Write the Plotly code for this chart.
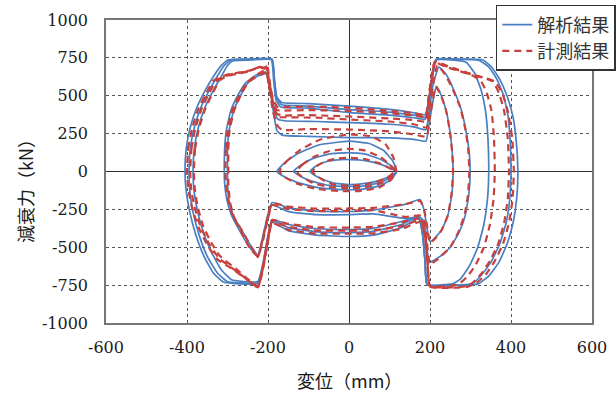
import plotly.graph_objects as go

# ---- axis ticks ----
x_ticks = [-600, -400, -200, 0, 200, 400, 600]
y_ticks = [-1000, -750, -500, -250, 0, 250, 500, 750, 1000]

series_names = ["解析結果", "計測結果"]

# ---- analysis (解析結果) loops: (displacement mm, force kN) ----
ana_c1 = [(-96,0),(-85,30),(-65,58),(-35,75),(0,79),(40,72),(80,45),(105,18),(118,0),
          (105,-25),(80,-55),(40,-78),(0,-86),(-40,-75),(-70,-45),(-88,-20),(-96,0)]
ana_c2 = [(-137,0),(-120,40),(-90,85),(-50,115),(0,125),(40,115),(80,78),(105,35),(118,0),
          (105,-35),(80,-70),(40,-95),(0,-99),(-50,-92),(-95,-62),(-122,-28),(-137,0)]
ana_c3 = [(-178,0),(-160,55),(-125,120),(-75,175),(0,200),(50,185),(85,140),(108,70),(118,0),
          (105,-50),(75,-95),(30,-118),(-20,-119),(-80,-105),(-130,-70),(-162,-32),(-178,0)]
ana_l1 = [(-300,0),(-300,150),(-297,260),(-285,400),(-268,500),(-249,587),(-225,630),(-205,645),
          (-195,560),(-186,380),(-178,270),(-165,240),(-100,232),(0,224),(100,222),(160,212),(190,200),
          (197,300),(205,430),(212,530),(217,560),(228,500),(240,400),(250,250),(255,120),(257,0),
          (254,-150),(245,-280),(230,-380),(212,-440),(200,-462),(193,-380),(185,-250),(175,-185),
          (140,-215),(60,-255),(0,-264),(-80,-262),(-150,-240),(-190,-205),(-200,-280),(-212,-420),
          (-225,-550),(-245,-480),(-262,-400),(-285,-300),(-296,-200),(-300,-80),(-300,0)]
ana_l2 = [(-308,0),(-307,150),(-303,270),(-292,400),(-275,500),(-255,585),(-230,635),(-205,655),
          (-194,560),(-185,420),(-176,345),(-160,335),(-80,330),(0,323),(100,312),(160,295),(190,275),
          (198,400),(208,580),(222,690),(240,640),(260,530),(278,400),(290,250),(297,120),(299,0),
          (296,-150),(287,-290),(272,-400),(250,-500),(225,-560),(198,-600),(192,-480),(185,-330),
          (175,-300),(140,-310),(60,-280),(0,-284),(-80,-285),(-150,-265),(-190,-220),(-200,-300),
          (-212,-440),(-225,-560),(-248,-490),(-268,-400),(-290,-290),(-302,-180),(-307,-80),(-308,0)]
ana_l3 = [(-385,0),(-382,150),(-372,290),(-356,420),(-336,530),(-315,630),(-300,700),(-288,730),
          (-250,735),(-192,738),(-186,600),(-180,470),(-168,425),(-100,418),(0,389),(100,372),
          (160,355),(188,345),(195,420),(205,600),(215,735),(260,735),(290,720),(310,650),(326,540),
          (337,400),(343,220),(345,0),
          (342,-180),(333,-350),(318,-500),(298,-620),(275,-710),(255,-742),(193,-746),(188,-600),
          (182,-420),(172,-300),(130,-330),(60,-375),(0,-383),(-80,-378),(-150,-350),(-190,-317),
          (-200,-420),(-212,-600),(-225,-726),(-260,-726),(-290,-715),(-315,-650),(-340,-530),
          (-360,-400),(-375,-250),(-383,-120),(-385,0)]
ana_l4 = [(-395,0),(-392,150),(-382,290),(-366,420),(-346,530),(-325,630),(-308,700),(-292,735),
          (-250,740),(-190,740),(-184,600),(-178,480),(-166,440),(-100,432),(0,409),(100,392),
          (160,372),(188,360),(195,430),(205,610),(215,740),(270,740),(320,735),(345,690),(365,610),
          (382,500),(393,360),(398,200),(400,0),
          (397,-180),(388,-340),(372,-480),(350,-600),(325,-690),(305,-740),(290,-746),(193,-746),
          (188,-600),(182,-420),(172,-300),(130,-350),(60,-395),(0,-403),(-80,-398),(-150,-370),
          (-190,-325),(-200,-440),(-212,-620),(-225,-735),(-270,-735),(-300,-728),(-325,-670),
          (-350,-560),(-370,-420),(-385,-270),(-393,-130),(-395,0)]
ana_l5 = [(-405,0),(-402,150),(-392,290),(-376,420),(-356,530),(-334,630),(-315,700),(-298,738),
          (-250,742),(-190,742),(-184,600),(-178,490),(-166,455),(-100,448),(0,431),(100,410),
          (160,388),(188,375),(195,440),(205,620),(215,742),(270,742),(330,738),(352,690),(372,610),
          (390,500),(405,360),(413,200),(417,0),
          (414,-180),(405,-340),(390,-480),(370,-600),(345,-690),(320,-740),(300,-748),(193,-748),
          (188,-600),(182,-420),(172,-310),(130,-370),(60,-420),(0,-429),(-80,-420),(-150,-390),
          (-190,-335),(-200,-450),(-212,-630),(-225,-740),(-280,-740),(-310,-730),(-335,-670),
          (-358,-560),(-378,-420),(-393,-270),(-402,-130),(-405,0)]

# ---- measured (計測結果) loops ----
mea_c1 = [(-90,0),(-80,35),(-60,65),(-30,85),(0,90),(40,82),(75,55),(100,22),(112,0),
          (100,-30),(75,-62),(40,-86),(0,-95),(-40,-85),(-65,-55),(-82,-25),(-90,0)]
mea_c2 = [(-130,0),(-115,45),(-88,95),(-48,135),(0,150),(40,138),(78,95),(102,42),(114,0),
          (102,-40),(78,-78),(40,-104),(0,-110),(-50,-102),(-92,-72),(-118,-32),(-130,0)]
mea_c3 = [(-172,0),(-155,65),(-122,140),(-72,210),(0,245),(55,232),(90,180),(110,90),(116,0),
          (104,-55),(75,-105),(30,-128),(-20,-130),(-80,-115),(-128,-80),(-158,-38),(-172,0)]
mea_l1 = [(-298,0),(-298,150),(-295,270),(-284,400),(-268,500),(-250,585),(-226,632),(-205,655),
          (-197,560),(-188,400),(-176,300),(-165,275),(-100,280),(0,277),(100,265),(160,245),(192,230),
          (198,330),(206,460),(214,560),(226,510),(240,400),(250,250),(255,120),(257,0),
          (253,-150),(244,-290),(228,-390),(210,-450),(200,-470),(194,-380),(186,-260),(176,-195),
          (140,-215),(60,-240),(0,-244),(-80,-245),(-150,-232),(-190,-210),(-200,-290),(-212,-430),
          (-225,-565),(-242,-495),(-262,-400),(-284,-300),(-294,-200),(-298,-80),(-298,0)]
mea_l2 = [(-305,0),(-304,150),(-300,270),(-289,400),(-272,500),(-252,585),(-228,638),(-205,670),
          (-196,560),(-187,430),(-176,360),(-160,358),(-80,355),(0,343),(100,330),(160,312),(192,290),
          (198,400),(207,560),(218,700),(235,650),(255,550),(275,420),(288,270),(295,130),(297,0),
          (294,-150),(285,-290),(270,-400),(250,-500),(225,-565),(200,-612),(193,-480),(186,-330),
          (176,-290),(140,-300),(60,-255),(0,-260),(-80,-262),(-150,-248),(-190,-222),(-200,-310),
          (-212,-450),(-225,-560),(-245,-505),(-266,-400),(-287,-290),(-299,-180),(-304,-80),(-305,0)]
mea_l3 = [(-383,0),(-380,150),(-370,290),(-354,420),(-336,520),(-320,600),(-305,625),(-285,640),
          (-265,650),(-245,665),(-225,685),(-212,675),(-205,690),(-197,560),(-188,440),(-178,380),
          (-165,370),(-100,372),(0,363),(100,350),(160,340),(190,330),(196,450),(204,600),(212,720),
          (240,690),(270,665),(300,640),(325,600),(340,520),(352,400),(358,220),(360,0),
          (357,-180),(348,-350),(333,-500),(312,-620),(290,-700),(270,-745),(240,-755),(200,-755),
          (194,-600),(188,-420),(178,-310),(130,-335),(60,-365),(0,-370),(-80,-368),(-150,-345),
          (-190,-320),(-200,-440),(-212,-620),(-225,-760),(-250,-710),(-280,-640),(-318,-560),
          (-340,-470),(-360,-360),(-374,-230),(-381,-110),(-383,0)]
mea_l4 = [(-392,0),(-389,150),(-379,290),(-363,420),(-343,530),(-325,605),(-305,630),(-285,645),
          (-262,655),(-240,670),(-222,688),(-210,680),(-203,695),(-196,570),(-188,460),(-178,405),
          (-165,402),(-100,405),(0,400),(100,385),(160,370),(190,360),(196,470),(204,620),(212,722),
          (240,695),(270,668),(300,642),(330,620),(355,595),(370,520),(383,400),(392,220),(395,0),
          (392,-180),(383,-340),(368,-480),(348,-590),(325,-680),(305,-735),(290,-758),(200,-758),
          (194,-600),(188,-430),(178,-320),(130,-360),(60,-388),(0,-390),(-80,-390),(-150,-365),
          (-190,-330),(-200,-450),(-212,-630),(-225,-762),(-255,-705),(-285,-645),(-320,-575),
          (-345,-480),(-367,-360),(-382,-230),(-390,-110),(-392,0)]
mea_l5 = [(-400,0),(-397,150),(-387,290),(-371,420),(-352,520),(-335,600),(-318,620),(-300,640),
          (-280,650),(-258,660),(-238,672),(-220,690),(-208,684),(-202,700),(-195,580),(-187,470),
          (-176,425),(-165,425),(-100,428),(0,422),(100,400),(160,385),(190,372),(196,480),(204,630),
          (212,725),(240,700),(270,672),(300,645),(330,622),(360,595),(378,520),(392,400),(403,220),
          (407,0),
          (404,-180),(395,-340),(380,-480),(360,-590),(338,-680),(315,-735),(292,-762),(200,-760),
          (194,-600),(188,-440),(178,-330),(130,-380),(60,-408),(0,-410),(-80,-410),(-150,-385),
          (-190,-340),(-200,-460),(-212,-640),(-225,-765),(-258,-700),(-290,-640),(-325,-580),
          (-350,-485),(-372,-365),(-388,-235),(-397,-110),(-400,0)]

ana_loops = [ana_c1, ana_c2, ana_c3, ana_l1, ana_l2, ana_l3, ana_l4, ana_l5]
mea_loops = [mea_c1, mea_c2, mea_c3, mea_l1, mea_l2, mea_l3, mea_l4, mea_l5]


def join(loops):
    xs, ys = [], []
    for lp in loops:
        xs += [p[0] for p in lp] + [None]
        ys += [p[1] for p in lp] + [None]
    return xs, ys


ax, ay = join(ana_loops)
mx, my = join(mea_loops)

BLUE = "#4a7fc1"
RED = "#c8403c"
SERIF = "DejaVu Serif"
CJK = "Noto Sans CJK JP"

fig = go.Figure()
fig.add_trace(go.Scatter(x=ax, y=ay, mode="lines", name=series_names[0],
                         line=dict(color=BLUE, width=1.7, shape="spline", smoothing=0.4)))
fig.add_trace(go.Scatter(x=mx, y=my, mode="lines", name=series_names[1],
                         line=dict(color=RED, width=2.2, dash="7px,5px", shape="spline", smoothing=0.4)))

fig.update_layout(
    width=616, height=393,
    margin=dict(l=106, r=24, t=20, b=70, autoexpand=False),
    paper_bgcolor="white", plot_bgcolor="white",
    font=dict(family=SERIF, size=16, color="#1a1a1a"),
    showlegend=True,
    legend=dict(x=1.049, y=1.05, xanchor="right", yanchor="top",
                bgcolor="white", bordercolor="#333", borderwidth=1.5,
                font=dict(family=CJK, size=18, color="#333"),
                itemwidth=30, tracegroupgap=2),
    xaxis=dict(range=[-600, 600], tickvals=x_ticks, ticktext=[f"{v}" for v in x_ticks],
               showgrid=True, gridcolor="#555", griddash="dot", gridwidth=1.2,
               zeroline=True, zerolinecolor="#333", zerolinewidth=1.3,
               showline=True, mirror=True, linecolor="#777", linewidth=1.5,
               ticks="", ticklabelstandoff=9,
               tickfont=dict(family=SERIF, size=16, color="#1a1a1a")),
    yaxis=dict(range=[-1000, 1000], tickvals=y_ticks, ticktext=[f"{v}" for v in y_ticks],
               showgrid=True, gridcolor="#555", griddash="dot", gridwidth=1.2,
               zeroline=True, zerolinecolor="#333", zerolinewidth=1.3,
               showline=True, mirror=True, linecolor="#777", linewidth=1.5,
               ticks="", ticklabelstandoff=13,
               tickfont=dict(family=SERIF, size=16, color="#1a1a1a")),
    annotations=[
        dict(text="変位（mm）", xref="paper", yref="paper", x=0.5, y=-0.188,
             xanchor="center", yanchor="middle", showarrow=False,
             font=dict(family=CJK, size=18, color="#1a1a1a")),
        dict(text="減衰力（kN）", xref="paper", yref="paper", x=-0.167, y=0.452,
             xanchor="center", yanchor="middle", showarrow=False, textangle=-90,
             font=dict(family=CJK, size=18, color="#1a1a1a")),
    ],
)

fig.write_html("out.html", config={"displayModeBar": False},
               post_script="document.body.style.margin='0px';")
